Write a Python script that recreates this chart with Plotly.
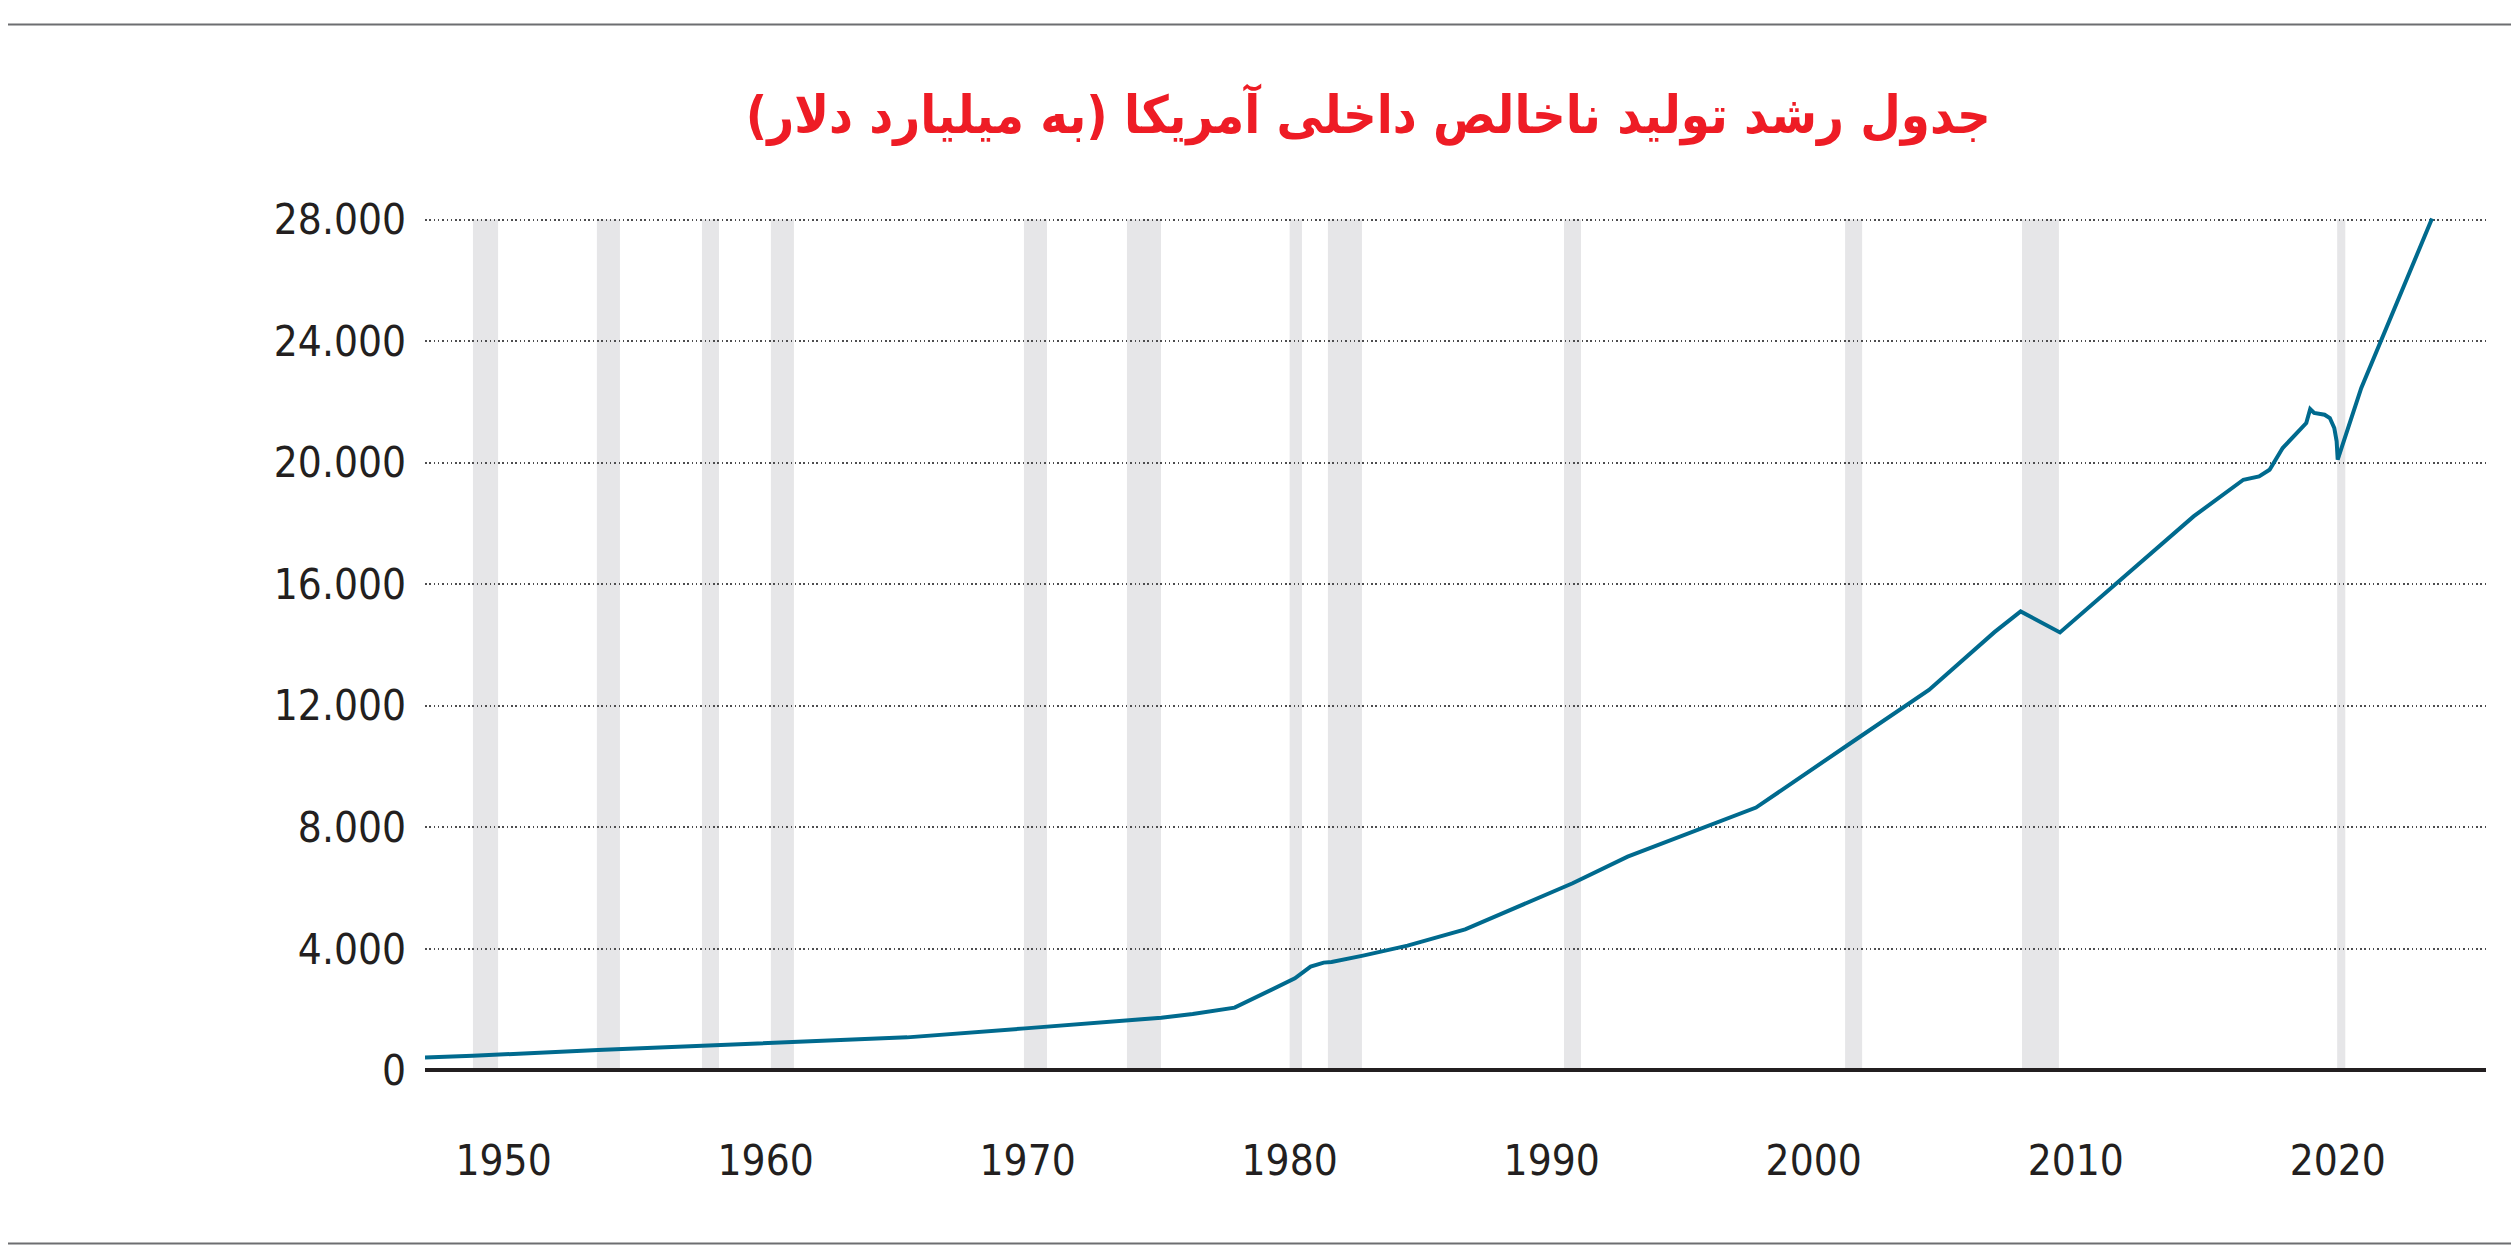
import plotly.graph_objects as go

# داده‌ها (میلیارد دلار) - خوانده شده از تصویر
years = [1947, 1948.83, 1953.6, 1957.6, 1961.1, 1965.4, 1969.9, 1973.8, 1975.1, 1976.3,
         1977.9, 1980.2, 1980.8, 1981.3, 1981.6, 1982.8, 1984.5, 1986.7, 1990.8, 1992.9,
         1997.8, 2001.5, 2004.4, 2006.9, 2007.9, 2009.4, 2014.5, 2016.4, 2017.0, 2017.4,
         2017.6, 2017.9, 2018.8, 2018.95, 2019.1, 2019.5, 2019.7, 2019.87, 2019.96, 2020.0,
         2020.9, 2023.6]
gdp = [428, 484, 668, 800, 912, 1087, 1383, 1623, 1735, 1854,
       2065, 3030, 3415, 3547, 3566, 3777, 4106, 4643, 6158, 7037,
       8651, 10824, 12523, 14423, 15105, 14413, 18233, 19438, 19550, 19768,
       20044, 20482, 21305, 21766, 21635, 21579, 21470, 21141, 20703, 20097,
       22458, 28033]

# دوره‌های رکود
rec_start = [1948.83, 1953.56, 1957.57, 1960.2, 1969.86, 1973.79, 1980.0, 1981.46, 1990.47, 2001.2, 2007.95, 2019.98]
rec_end = [1949.79, 1954.44, 1958.22, 1961.08, 1970.74, 1975.09, 1980.47, 1982.76, 1991.12, 2001.85, 2009.36, 2020.29]

x_ticks = [1950, 1960, 1970, 1980, 1990, 2000, 2010, 2020]
y_ticks = [0, 4000, 8000, 12000, 16000, 20000, 24000, 28000]
y_labels = ["0", "4.000", "8.000", "12.000", "16.000", "20.000", "24.000", "28.000"]

title = "جدول رشد تولید ناخالص داخلی آمریکا (به میلیارد دلار)\u200f"

fig = go.Figure()

for s, e in zip(rec_start, rec_end):
    fig.add_shape(type="rect", xref="x", yref="y", x0=s, x1=e, y0=0, y1=28000,
                  fillcolor="#e6e6e8", line_width=0, layer="below")

fig.add_trace(go.Scatter(x=years, y=gdp, mode="lines",
                         line=dict(color="#006a8e", width=4), hoverinfo="skip"))

# خطوط بالا و پایین
fig.add_shape(type="line", xref="paper", yref="paper", x0=-0.21, x1=1.03, y0=1.2165, y1=1.2165,
              line=dict(color="#6d6e71", width=2))
fig.add_shape(type="line", xref="paper", yref="paper", x0=-0.21, x1=1.03, y0=-0.1911, y1=-0.1911,
              line=dict(color="#6d6e71", width=2))

tick_font = dict(family="DejaVu Sans Condensed, DejaVu Sans, sans-serif", size=42, color="#231f20")

fig.update_layout(
    width=2519, height=1252,
    margin=dict(l=417, r=41, t=204, b=182),
    paper_bgcolor="white", plot_bgcolor="white",
    showlegend=False,
    title=dict(text=title, x=0.54, xanchor="center", y=0.915, yanchor="middle",
               font=dict(family="DejaVu Sans Condensed, DejaVu Sans, sans-serif", size=52,
                         color="#ee1c25", weight="bold")),
    xaxis=dict(range=[1947.0, 2025.66], tickvals=x_ticks, showgrid=False, zeroline=False,
               showline=False, ticks="", tickfont=tick_font, ticklabelstandoff=54),
    yaxis=dict(range=[-250, 28250], tickvals=y_ticks, ticktext=y_labels,
               showgrid=True, gridcolor="#4d4d4f", gridwidth=1.5, griddash="1.5px,2.8px",
               zeroline=True, zerolinecolor="#231f20", zerolinewidth=4,
               showline=False, ticks="", tickfont=tick_font, ticklabelstandoff=18),
)

fig.write_html("out.html")
